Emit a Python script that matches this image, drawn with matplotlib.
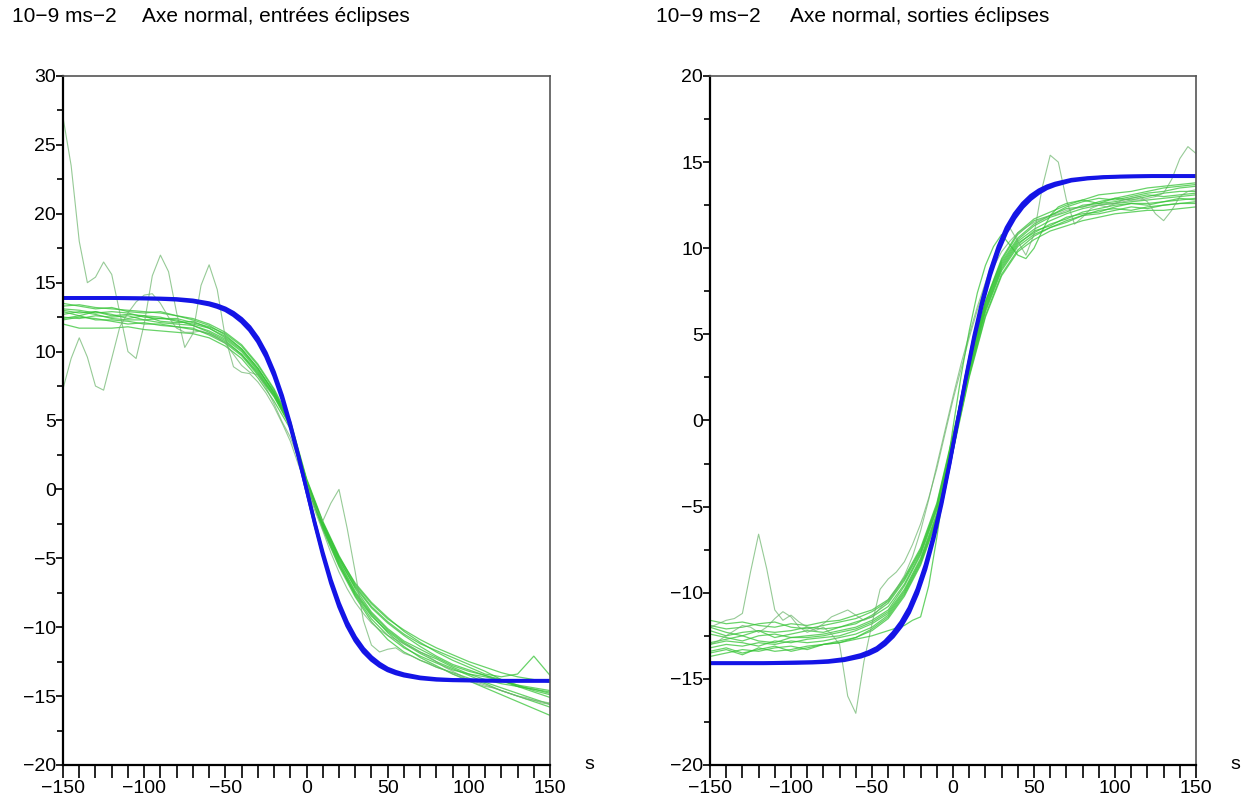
import matplotlib
matplotlib.use('Agg')
import matplotlib.pyplot as plt
from matplotlib.ticker import MultipleLocator, FuncFormatter

plt.rcParams['font.family'] = ['Liberation Sans', 'DejaVu Sans']

# time grids (s)
t10 = list(range(-150, 151, 10))
t5 = list(range(-150, 151, 5))

# ---- left panel : entrees eclipses ----
tb_left = [-150, -120, -100, -90, -80, -70, -60, -55, -50, -45, -40, -35, -30, -25, -20, -15, -10, -5, 0,
           5, 10, 15, 20, 25, 30, 35, 40, 45, 50, 55, 60, 70, 80, 90, 100, 120, 150]
blue_left_a = [13.9, 13.9, 13.88, 13.86, 13.82, 13.72, 13.52, 13.36, 13.14, 12.82, 12.38, 11.79, 10.98, 9.91, 8.52, 6.81, 4.76, 2.46, 0,
               -2.46, -4.76, -6.81, -8.52, -9.91, -10.98, -11.79, -12.38, -12.82, -13.14, -13.36, -13.52, -13.72, -13.82, -13.86, -13.88, -13.9, -13.9]
blue_left_b = [13.88, 13.88, 13.84, 13.82, 13.76, 13.64, 13.41, 13.23, 13.0, 12.64, 12.17, 11.55, 10.72, 9.63, 8.24, 6.56, 4.56, 2.36, 0,
               -2.36, -4.56, -6.56, -8.24, -9.63, -10.72, -11.55, -12.17, -12.64, -13.0, -13.23, -13.41, -13.64, -13.76, -13.82, -13.84, -13.88, -13.88]

green_left = [
    [13.3, 13.4, 13.2, 13.1, 13.0, 12.9, 12.8, 12.6, 12.4, 12.0, 11.4, 10.5, 9.1, 7.3, 5.0, 0.8, -2.3, -4.8, -6.9, -8.3, -9.4, -10.2, -10.9, -11.5, -12.0, -12.5, -12.9, -13.3, -13.6, -13.8, -14.0],
    [12.3, 12.5, 12.4, 12.2, 12.0, 12.1, 11.9, 11.8, 11.7, 11.2, 10.6, 9.7, 8.3, 6.7, 4.6, 0.5, -2.8, -5.5, -7.6, -9.2, -10.3, -11.2, -11.9, -12.5, -13.0, -13.5, -14.0, -14.4, -14.8, -15.2, -15.6],
    [12.9, 12.6, 12.9, 12.7, 12.4, 12.6, 12.5, 12.2, 12.0, 11.7, 11.1, 10.2, 8.8, 7.0, 4.9, 0.6, -2.5, -5.0, -7.2, -8.9, -10.1, -11.0, -11.6, -12.2, -12.8, -13.2, -13.5, -13.9, -14.3, -14.5, -14.8],
    [13.1, 13.0, 12.8, 12.9, 12.8, 12.5, 12.4, 12.4, 12.1, 11.8, 11.3, 10.4, 9.0, 7.2, 4.8, 0.3, -2.9, -5.6, -7.8, -9.6, -10.9, -11.8, -12.4, -12.9, -13.3, -13.7, -14.1, -14.6, -15.0, -15.4, -15.8],
    [12.0, 11.7, 11.7, 11.7, 11.8, 11.6, 11.5, 11.4, 11.3, 11.0, 10.4, 9.5, 8.1, 6.4, 4.4, 0.7, -2.4, -4.9, -6.8, -8.2, -9.3, -10.3, -11.1, -11.8, -12.4, -12.9, -13.4, -13.6, -13.4, -12.1, -13.5],
    [13.5, 13.3, 13.1, 13.2, 12.9, 12.8, 12.9, 12.6, 12.3, 11.9, 11.2, 10.2, 8.8, 7.0, 4.7, 0.4, -2.7, -5.3, -7.5, -9.1, -10.4, -11.4, -12.2, -12.8, -13.4, -13.9, -14.4, -14.9, -15.4, -15.9, -16.4],
    [12.5, 12.4, 12.6, 12.5, 12.6, 12.3, 12.1, 12.0, 11.9, 11.5, 10.9, 10.0, 8.6, 6.9, 4.8, 0.6, -2.5, -5.1, -7.1, -8.6, -9.7, -10.6, -11.4, -12.1, -12.7, -13.1, -13.5, -13.8, -14.2, -14.6, -14.9],
    [12.7, 12.9, 12.7, 12.4, 12.3, 12.3, 12.4, 12.3, 11.9, 11.4, 10.8, 9.8, 8.4, 6.8, 4.7, 0.5, -2.6, -5.2, -7.4, -9.0, -10.2, -11.1, -11.8, -12.3, -12.9, -13.4, -13.6, -13.9, -14.2, -14.4, -14.6],
    [13.0, 12.8, 12.9, 12.6, 12.7, 12.6, 12.2, 12.1, 12.2, 11.7, 11.0, 10.1, 8.7, 7.1, 4.9, 0.7, -2.4, -4.9, -7.0, -8.5, -9.6, -10.5, -11.2, -11.7, -12.2, -12.7, -13.2, -13.8, -14.3, -14.7, -15.1],
    [12.4, 12.6, 12.3, 12.3, 12.2, 12.0, 12.0, 11.8, 11.6, 11.3, 10.7, 9.8, 8.5, 6.8, 4.6, 0.4, -2.7, -5.4, -7.7, -9.4, -10.6, -11.5, -12.1, -12.6, -13.1, -13.4, -13.8, -14.1, -14.3, -14.5, -14.7],
]
# oscillating records, 5 s grid
osc_left_1 = [27.0, 23.5, 18.0, 15.0, 15.4, 16.5, 15.6, 12.8, 10.0, 9.5, 12.0, 15.5, 17.0, 15.8, 12.8, 10.3, 11.3, 14.8, 16.3, 14.5,
              11.0, 8.9, 8.5, 8.4, 7.8, 7.0, 6.0, 4.8, 3.5, 1.8, 0.2, -1.5, -3.0, -4.6, -6.0, -7.2, -8.2, -9.0, -9.7, -10.2,
              -10.6, -10.9, -11.2, -11.5, -11.8, -12.1, -12.5, -12.9, -13.2, -13.5, -13.9, -14.1, -14.3, -14.4, -14.6, -14.8, -15.0, -15.2, -15.3, -15.5, -15.6]
osc_left_2 = [7.3, 9.5, 11.0, 9.6, 7.5, 7.2, 9.5, 11.8, 12.8, 13.6, 14.1, 14.2, 13.5, 12.5, 11.7, 11.4, 11.4, 11.5, 11.3, 11.0,
              10.6, 9.8, 9.0, 8.5, 8.3, 7.4, 6.2, 4.9, 3.8, 2.2, 0.5, -1.2, -2.3, -1.0, 0.0, -2.8, -6.0, -9.5, -11.3, -11.8,
              -11.6, -11.5, -11.9, -12.1, -12.4, -12.6, -12.9, -13.1, -13.4, -13.6, -13.8, -14.0, -14.2, -14.4, -14.6, -14.8, -15.0, -15.1, -15.3, -15.4, -15.5]

# ---- right panel : sorties eclipses ----
tb_right = [-150, -117, -97, -87, -77, -67, -57, -52, -47, -42, -37, -32, -27, -22, -17, -12, -7, -2, 3,
            8, 13, 18, 23, 28, 33, 38, 43, 48, 53, 58, 63, 73, 83, 93, 103, 123, 150]
blue_right_a = [-14.1, -14.1, -14.08, -14.06, -14.02, -13.92, -13.72, -13.56, -13.34, -13.0, -12.55, -11.95, -11.15, -10.05, -8.65, -6.9, -4.85, -2.5, 0.05,
                2.55, 4.9, 6.95, 8.7, 10.1, 11.2, 12.0, 12.6, 13.05, 13.37, 13.6, 13.76, 13.98, 14.08, 14.14, 14.17, 14.2, 14.2]
blue_right_b = [-14.08, -14.08, -14.04, -14.02, -13.96, -13.84, -13.61, -13.43, -13.2, -12.83, -12.33, -11.7, -10.88, -9.78, -8.38, -6.68, -4.68, -2.4, 0.05,
                2.45, 4.73, 6.73, 8.43, 9.83, 10.93, 11.75, 12.38, 12.85, 13.21, 13.48, 13.66, 13.92, 14.04, 14.11, 14.15, 14.18, 14.18]

green_right = [
    [-11.6, -11.8, -11.7, -11.9, -12.0, -11.8, -11.9, -11.7, -11.6, -11.3, -11.0, -10.4, -9.1, -7.4, -4.8, -0.8, 3.4, 6.9, 9.4, 10.9, 11.7, 12.1, 12.5, 12.8, 13.1, 13.2, 13.3, 13.5, 13.6, 13.7, 13.8],
    [-13.5, -13.3, -13.6, -13.2, -13.4, -13.3, -13.1, -13.0, -12.8, -12.6, -12.2, -11.5, -10.2, -8.4, -5.8, -1.8, 2.5, 6.0, 8.4, 9.8, 10.5, 11.0, 11.3, 11.6, 11.8, 12.0, 12.1, 12.2, 12.2, 12.3, 12.4],
    [-12.2, -12.5, -12.3, -12.2, -12.6, -12.4, -12.2, -12.3, -12.0, -11.8, -11.3, -10.6, -9.3, -7.6, -5.0, -1.0, 3.2, 6.8, 9.2, 10.6, 11.4, 11.9, 12.3, 12.4, 12.7, 12.9, 12.8, 13.0, 13.2, 13.3, 13.3],
    [-13.0, -12.8, -12.9, -13.1, -12.8, -12.9, -12.7, -12.6, -12.5, -12.2, -11.8, -11.2, -9.9, -8.1, -5.5, -1.4, 2.8, 6.4, 8.8, 10.2, 11.0, 11.3, 11.8, 12.0, 12.1, 12.4, 12.6, 12.5, 12.7, 12.8, 12.9],
    [-11.9, -12.1, -12.0, -11.8, -11.7, -12.0, -12.1, -11.9, -11.7, -11.5, -11.1, -10.5, -9.2, -7.5, -4.9, -0.9, 3.3, 6.9, 9.3, 10.8, 11.6, 11.9, 12.4, 12.7, 12.9, 12.8, 13.0, 13.2, 13.3, 13.5, 13.6],
    [-13.7, -13.5, -13.3, -13.4, -13.2, -13.1, -13.3, -13.0, -12.9, -12.6, -12.1, -11.4, -10.1, -8.3, -5.7, -1.7, 2.6, 6.1, 8.5, 9.9, 10.7, 11.2, 11.5, 11.9, 12.2, 12.3, 12.2, 12.4, 12.5, 12.6, 12.7],
    [-12.4, -12.6, -12.8, -12.5, -12.4, -12.6, -12.5, -12.4, -12.2, -12.0, -11.6, -11.0, -9.6, -7.8, -5.2, -1.2, 3.0, 6.6, 9.0, 10.4, 11.1, 11.6, 12.0, 12.3, 12.5, 12.6, 12.7, 12.8, 12.9, 13.0, 13.1],
    [-12.9, -12.7, -12.5, -12.8, -12.9, -12.6, -12.6, -12.5, -12.3, -12.1, -11.7, -11.1, -9.8, -8.0, -5.4, -1.3, 2.9, 6.5, 8.9, 10.3, 10.9, 11.4, 11.7, 12.1, 12.3, 12.5, 12.6, 12.6, 12.7, 12.9, 12.8],
    [-12.0, -12.3, -12.5, -12.2, -12.3, -12.2, -12.0, -12.1, -12.0, -11.7, -11.4, -10.8, -9.5, -7.7, -5.1, -1.1, 3.1, 6.7, 9.1, 10.5, 11.3, 11.8, 12.1, 12.5, 12.6, 12.7, 12.9, 13.1, 13.0, 13.1, 13.2],
    [-13.2, -13.0, -13.1, -12.9, -13.0, -12.8, -12.9, -12.8, -12.6, -12.4, -12.0, -11.3, -10.0, -8.2, -5.6, -1.6, 2.7, 6.3, 8.7, 10.1, 10.8, 11.2, 11.6, 11.9, 12.0, 12.2, 12.4, 12.3, 12.5, 12.6, 12.6],
]
osc_right_1 = [-12.0, -11.8, -11.6, -11.5, -11.2, -8.8, -6.6, -8.6, -11.0, -11.6, -11.3, -11.7, -12.0, -12.2, -12.0, -12.4, -13.0, -16.0, -17.0, -14.0,
               -11.8, -9.8, -9.2, -8.8, -8.2, -7.2, -6.0, -4.5, -2.8, -0.8, 1.2, 3.0, 4.8, 6.4, 7.8, 8.9, 9.8, 10.4, 10.9, 11.2,
               11.5, 11.7, 11.9, 12.0, 12.2, 12.3, 12.4, 12.5, 12.5, 12.6, 12.6, 12.7, 12.8, 12.8, 12.9, 13.0, 13.2, 14.0, 15.2, 15.9, 15.5]
osc_right_2 = [-13.0, -12.8, -12.5, -12.2, -11.9, -12.0, -12.3, -12.0, -11.5, -11.1, -11.4, -12.0, -12.3, -12.1, -11.8, -11.4, -11.2, -11.0, -11.3, -11.6,
               -11.4, -10.9, -10.4, -9.8, -9.0, -7.9, -6.4, -4.6, -2.6, -0.6, 1.4, 3.3, 5.0, 6.6, 8.0, 9.4, 10.6, 11.2, 10.4, 9.6,
               10.8, 13.5, 15.4, 15.0, 12.8, 11.4, 11.8, 12.3, 12.5, 12.4, 12.6, 12.8, 12.9, 13.0, 12.7, 12.0, 11.6, 12.2, 13.0, 13.3, 13.4]
t_lag = [-150, -140, -130, -120, -110, -100, -90, -80, -70, -60, -50, -40, -30, -25, -20, -15, -10, -5, 0, 5, 10,
         15, 20, 25, 30, 35, 40, 45, 50, 55, 60, 65, 70, 80, 90, 100, 110, 120, 130, 140, 150]
lag_right = [-13.4, -13.2, -13.5, -13.3, -13.1, -13.4, -13.2, -13.0, -12.9, -12.7, -12.5, -12.2, -11.9, -11.6, -11.4, -9.6, -6.8, -3.6, -0.4, 2.6, 5.2,
             7.4, 9.0, 10.1, 10.8, 10.2, 9.6, 9.4, 10.0, 11.0, 11.9, 12.4, 12.6, 12.8, 12.6, 12.9, 13.1, 13.3, 13.5, 13.6, 13.7]

green = '#36c436'
blue = '#1414e6'


def minus_fmt(v, p):
    return f'{v:.0f}'.replace('-', '\u2212')


def style_axes(ax, ymin, ymax):
    ax.set_xlim(-150, 150)
    ax.set_ylim(ymin, ymax)
    ax.xaxis.set_major_locator(MultipleLocator(50))
    ax.xaxis.set_minor_locator(MultipleLocator(10))
    ax.yaxis.set_major_locator(MultipleLocator(5))
    ax.yaxis.set_minor_locator(MultipleLocator(2.5))
    ax.tick_params(axis='x', which='major', direction='out', length=9, width=1.2, labelsize=14, pad=2)
    ax.tick_params(axis='x', which='minor', direction='out', length=9, width=1.2)
    ax.tick_params(axis='y', which='major', direction='out', length=5, width=1.2, labelsize=14, pad=0)
    ax.tick_params(axis='y', which='minor', direction='out', length=4, width=1.2)
    ax.xaxis.set_major_formatter(FuncFormatter(minus_fmt))
    ax.yaxis.set_major_formatter(FuncFormatter(minus_fmt))
    for s in ('left', 'bottom'):
        ax.spines[s].set_linewidth(1.6)
        ax.spines[s].set_color('black')
    for s in ('top', 'right'):
        ax.spines[s].set_linewidth(1.2)
        ax.spines[s].set_color('#555555')
    ax.text(1.08, 0.0, 's', transform=ax.transAxes, fontsize=14, ha='center', va='center')


fig = plt.figure(figsize=(12.43, 8.05), dpi=100)
ax1 = fig.add_axes([0.0507, 0.0497, 0.3918, 0.8559])
ax2 = fig.add_axes([0.5712, 0.0497, 0.3910, 0.8559])

for g in green_left:
    ax1.plot(t10, g, color=green, lw=0.9, alpha=0.75)
ax1.plot(t5, osc_left_1, color='#6ab46a', lw=0.8, alpha=0.7)
ax1.plot(t5, osc_left_2, color='#6ab46a', lw=0.8, alpha=0.7)
ax1.plot(tb_left, blue_left_b, color=blue, lw=2.6)
ax1.plot(tb_left, blue_left_a, color=blue, lw=2.6)
style_axes(ax1, -20, 30)

for g in green_right:
    ax2.plot(t10, g, color=green, lw=0.9, alpha=0.75)
ax2.plot(t5, osc_right_1, color='#6ab46a', lw=0.8, alpha=0.7)
ax2.plot(t5, osc_right_2, color='#6ab46a', lw=0.8, alpha=0.7)
ax2.plot(t_lag, lag_right, color=green, lw=0.9, alpha=0.75)
ax2.plot(tb_right, blue_right_b, color=blue, lw=2.6)
ax2.plot(tb_right, blue_right_a, color=blue, lw=2.6)
style_axes(ax2, -20, 20)

fig.text(12 / 1243, 1 - 17 / 805, '10\u22129 ms\u22122', fontsize=15, va='center', ha='left')
fig.text(142 / 1243, 1 - 17 / 805, 'Axe normal, entrées éclipses', fontsize=15, va='center', ha='left')
fig.text(656 / 1243, 1 - 17 / 805, '10\u22129 ms\u22122', fontsize=15, va='center', ha='left')
fig.text(790 / 1243, 1 - 17 / 805, 'Axe normal, sorties éclipses', fontsize=15, va='center', ha='left')

fig.savefig('out.png', dpi=100)
